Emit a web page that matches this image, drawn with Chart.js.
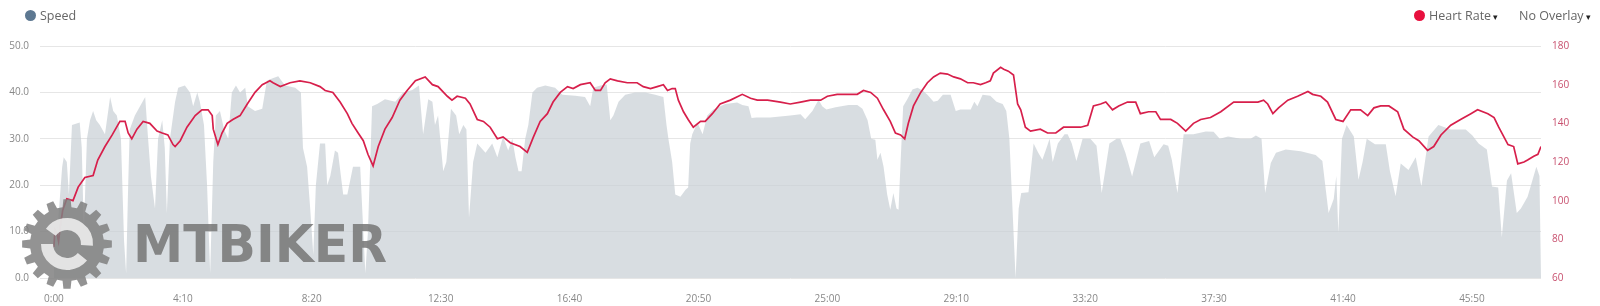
<!DOCTYPE html>
<html>
<head>
<meta charset="utf-8">
<script src="https://cdn.jsdelivr.net/npm/chart.js@4.4.1/dist/chart.umd.min.js"></script>
<style>
html,body{margin:0;padding:0;background:#fff;}
#wrap{position:relative;width:1600px;height:306px;overflow:hidden;}
canvas{position:absolute;left:0;top:0;}
.lg{position:absolute;top:8px;font:12.5px "Open Sans",sans-serif;color:#666;white-space:nowrap;line-height:16px;}
.dot{display:inline-block;width:11px;height:11px;border-radius:50%;vertical-align:-1px;margin-right:4px;}
.car{font-size:9px;color:#222;margin-left:2px;}
</style>
</head>
<body>
<div id="wrap">
<canvas id="c" width="1600" height="306"></canvas>
<div class="lg" style="left:25px"><span class="dot" style="background:#5d7891"></span>Speed</div>
<div class="lg" style="left:1414px"><span class="dot" style="background:#e8103e"></span>Heart Rate<span class="car">▾</span></div>
<div class="lg" style="left:1519px">No Overlay<span class="car">▾</span></div>
</div>
<script>
'use strict';
// elapsed time in seconds
const speedTimes = [
  0,2,8,16,19,25,29,35,50,54,58,64,70,76,82,89,99,109,115,122,130,136,140,144,147,157,
  167,177,182,188,196,202,210,215,219,225,235,241,254,264,270,278,283,291,297,303,309,314,322,330,338,345,
  353,361,371,376,390,404,413,423,435,448,468,479,483,491,497,503,508,516,526,530,536,545,551,561,569,580,
  594,600,604,609,617,627,642,662,677,695,708,716,726,734,739,745,755,761,770,780,786,794,800,805,813,821,
  837,850,860,871,881,889,895,901,907,914,920,928,937,953,972,986,1011,1030,1040,1046,1060,1072,1079,1085,1095,1108,
  1127,1147,1166,1182,1188,1192,1199,1205,1215,1225,1230,1234,1238,1248,1258,1267,1279,1302,1325,1335,1347,1353,1362,1389,1428,1448,
  1457,1471,1483,1490,1498,1516,1541,1558,1568,1578,1585,1593,1597,1603,1609,1616,1622,1628,1634,1638,1642,1647,1655,1665,1675,1686,
  1694,1706,1714,1724,1739,1749,1758,1778,1785,1791,1801,1816,1828,1840,1847,1853,1859,1865,1871,1876,1890,1900,1909,1917,1925,1931,
  1937,1947,1960,1966,1974,1983,1995,2010,2022,2032,2047,2061,2068,2078,2091,2107,2124,2134,2152,2161,2168,2179,2191,2210,2234,2249,
  2261,2277,2302,2321,2331,2342,2349,2360,2370,2389,2418,2447,2460,2472,2482,2487,2491,2498,2507,2521,2530,2538,2546,2562,2583,2591,
  2602,2612,2627,2641,2652,2666,2685,2709,2738,2751,2763,2779,2789,2801,2808,2818,2826,2837,2845,2858,2875,2881,2884
];
// km/h
const speedValues = [
  2,8,12,24,26,25,18,33,33.5,28,10,30,34,36,34,33,31,39,36,35,30,8,1,20,32,35,
  37,39,31,22,15,30,34,28,14,30,38,41,41.5,40,37,40,38,33,20,1,25,35,36,32,30,40,
  41.5,40,41,37,36,36.5,42.5,43,43.5,41.5,41,40,28,24,15,5,20,29,29,20,22,27.5,27,18,18,24,
  24,10,1,10,37,37.5,38.5,38,40,40.5,41.5,31,38.5,38,33,35,23,25,36.5,35,31,33,32,13,25,29,
  27,29,26,30.5,27.5,30,26,23,23,30,33,40,41,41.5,41,39.5,39.3,39,37,41,41.5,41.7,34,35,38,39.5,
  40,40,39.5,39,33,29.8,25,18,17.5,19,19.5,29,31,33.5,31,35,36.3,37.5,37.8,37.3,37,34.5,34.6,34.6,35,35.3,
  34.2,36,38.4,37,36.3,36.8,37.3,37.3,36.5,34,30,29.8,25.5,27,24,18,14.7,18.3,15,14.7,25,37,38.5,40.6,41,40.3,
  39.5,38,38.2,39.5,39.5,36,36.3,36.3,38,37,39.5,39.3,38,37.5,36,30,15,0,15,18.3,18.5,29,27,25.5,28,30,
  25,29,31,31,29,25.2,30,30,28.5,18.3,29,30,30,27,21.9,29,29.5,26,28.8,28.5,25.5,18.3,31,31,31.6,31.5,
  30,30.5,30,30,30.7,30,18.3,24.8,27,27.7,27.3,26.5,25.2,14,17,22,9.7,30,33,30.5,21.2,25,30,28.8,28.8,23,
  17.6,24.7,23.3,26,19.7,30.5,33,32,32,30.7,29,27.7,19.7,19.5,8.8,21,22.6,14,15,17.5,24,22,0
];
const hrTimes = [
  0,2,6,9,12,17,25,37,47,60,76,85,99,113,128,138,144,151,161,173,186,200,210,221,231,235,
  245,258,274,287,299,307,309,318,326,336,347,361,375,390,404,419,425,439,458,477,497,516,526,541,555,569,
  578,590,600,609,619,629,642,656,671,685,701,720,734,745,763,772,782,798,807,821,833,846,860,871,885,904,
  918,930,943,957,968,982,996,1007,1021,1040,1050,1060,1069,1079,1093,1112,1131,1143,1157,1170,1182,1190,1199,1205,1211,1221,
  1230,1240,1254,1263,1277,1292,1312,1335,1351,1364,1384,1409,1428,1448,1467,1487,1500,1519,1539,1558,1570,1584,1597,1609,1622,1632,
  1642,1650,1657,1667,1681,1694,1706,1719,1733,1745,1758,1772,1783,1797,1807,1816,1822,1836,1842,1851,1861,1869,1875,1884,1894,1913,
  1927,1943,1958,1977,1991,2005,2016,2030,2040,2053,2065,2082,2098,2107,2123,2137,2146,2166,2179,2195,2210,2224,2243,2263,2288,2307,
  2321,2335,2346,2354,2364,2375,2393,2412,2432,2441,2457,2470,2486,2500,2515,2534,2548,2560,2573,2589,2606,2618,2635,2647,2664,2676,
  2690,2709,2728,2748,2761,2781,2793,2802,2820,2831,2839,2851,2858,2870,2878,2884
];
// bpm
const hrValues = [
  76,85,83,79,86,95,101,100,107,112,113,121,128,134,141,141,135,132,137,141,140,136,135,134,129,128,
  131,138,144,147,147,144,137,129,135,140,142,144,150,156,160,162,161,159,161,162,161,159,157,156,151,145,
  140,135,131,124,118,128,137,143,152,157,162,164,160,159,154,152,154,153,150,142,141,138,132,133,130,128,
  125,133,141,145,151,156,159,158,160,161,157,157,161,163,162,161,161,159,158,159,160,157,158,158,152,146,
  142,138,141,141,145,150,152,155,153,152,152,151,150,151,152,152,154,155,155,155,157,156,153,147,141,135,
  134,132,140,149,156,161,164,166,165.5,164,163,161,161,160,161,162,166,169,168,167,165,150,147,138,136,137,
  135,135,138,138,138,139,149,150,151,147,149,151,151,145,146,146,142,142,140,136,140,142,143,146,151,151,
  151,151,152,150,145,148,152,154,156.5,155,154,151,142,141,147,147,144,148,149,149,146,137,133,131,126,128,
  134,139,142,145,147,145,143,138,129,128,119,120,121,123,124,128
];
const timeTicks = [0,250,500,750,1000,1250,1500,1750,2000,2250,2500,2750];
const speedTicks = [0,10,20,30,40,50];
const hrTicks = [60,80,100,120,140,160,180];

const fmtTime = s => Math.floor(s/60) + ':' + String(s%60).padStart(2,'0');
const tickFont = {family:'"Open Sans", sans-serif', size:10};

// MTBIKER watermark over the bottom-left corner (gear + lettering)
const watermark = {
  id: 'watermark',
  afterDraw(chart) {
    const ctx = chart.ctx, cx = 67, cy = 244, rIn = 37, rOut = 45, teeth = 16;
    const gear = 'rgba(128,128,128,0.85)', light = 'rgba(236,236,236,0.9)';
    ctx.save();
    ctx.fillStyle = gear;
    ctx.beginPath();
    for (let i = 0; i < teeth; i++) {
      const a = i*2*Math.PI/teeth - Math.PI/2;
      [[a-0.12,rIn],[a-0.08,rOut],[a+0.08,rOut],[a+0.12,rIn]].forEach(([ang,r],k) => {
        const px = cx + r*Math.cos(ang), py = cy + r*Math.sin(ang);
        if (i===0 && k===0) ctx.moveTo(px,py); else ctx.lineTo(px,py);
      });
    }
    ctx.closePath(); ctx.fill();
    // light ring broken into two arcs
    ctx.strokeStyle = light; ctx.lineWidth = 12;
    ctx.beginPath(); ctx.arc(cx, cy, 20, 1.2*Math.PI, 2.02*Math.PI); ctx.stroke();
    ctx.beginPath(); ctx.arc(cx, cy, 20, 0.22*Math.PI, 1.0*Math.PI); ctx.stroke();
    ctx.font = 'bold 52px "DejaVu Sans"';
    const w = ctx.measureText('MTBIKER').width;
    ctx.translate(133, 262); ctx.scale(254/w, 1);
    ctx.fillStyle = 'rgba(118,118,118,0.85)';
    ctx.textBaseline = 'alphabetic';
    ctx.fillText('MTBIKER', 0, 0);
    ctx.restore();
  }
};

new Chart(document.getElementById('c'), {
  type: 'line',
  data: {
    datasets: [
      {
        label: 'Speed',
        data: speedTimes.map((t,i) => ({x:t, y:speedValues[i]})),
        yAxisID: 'ySpeed',
        fill: 'origin',
        backgroundColor: 'rgba(200,206,212,0.7)',
        borderWidth: 0,
        pointRadius: 0,
        order: 2
      },
      {
        label: 'Heart Rate',
        data: hrTimes.map((t,i) => ({x:t, y:hrValues[i]})),
        yAxisID: 'yHr',
        fill: false,
        borderColor: '#d71f4b',
        borderWidth: 1.7,
        pointRadius: 0,
        order: 1
      }
    ]
  },
  options: {
    responsive: false,
    animation: false,
    devicePixelRatio: 1,
    layout: {padding: {top: 46, left: 0, right: 0, bottom: 0}},
    plugins: {legend: {display: false}, tooltip: {enabled: false}},
    scales: {
      x: {
        type: 'linear', min: -27, max: 2884,
        afterBuildTicks: s => { s.ticks = timeTicks.map(v => ({value: v})); },
        afterFit: s => { s.height = 28; },
        ticks: {callback: v => fmtTime(v), font: tickFont, color: '#888', padding: 7, maxRotation: 0, autoSkip: false},
        grid: {display: false},
        border: {display: false}
      },
      ySpeed: {
        position: 'left', min: 0, max: 50,
        afterBuildTicks: s => { s.ticks = speedTicks.map(v => ({value: v})); },
        afterFit: s => { s.width = 40; },
        ticks: {callback: v => v.toFixed(1), font: tickFont, color: '#888', padding: 11},
        grid: {color: '#e6e6e6', drawTicks: false},
        border: {display: false}
      },
      yHr: {
        position: 'right', min: 60, max: 180,
        afterBuildTicks: s => { s.ticks = hrTicks.map(v => ({value: v})); },
        afterFit: s => { s.width = 59; },
        ticks: {font: tickFont, color: '#c8506e', padding: 11},
        grid: {display: false, drawTicks: false},
        border: {display: false}
      }
    }
  },
  plugins: [watermark]
});
</script>
</body>
</html>
